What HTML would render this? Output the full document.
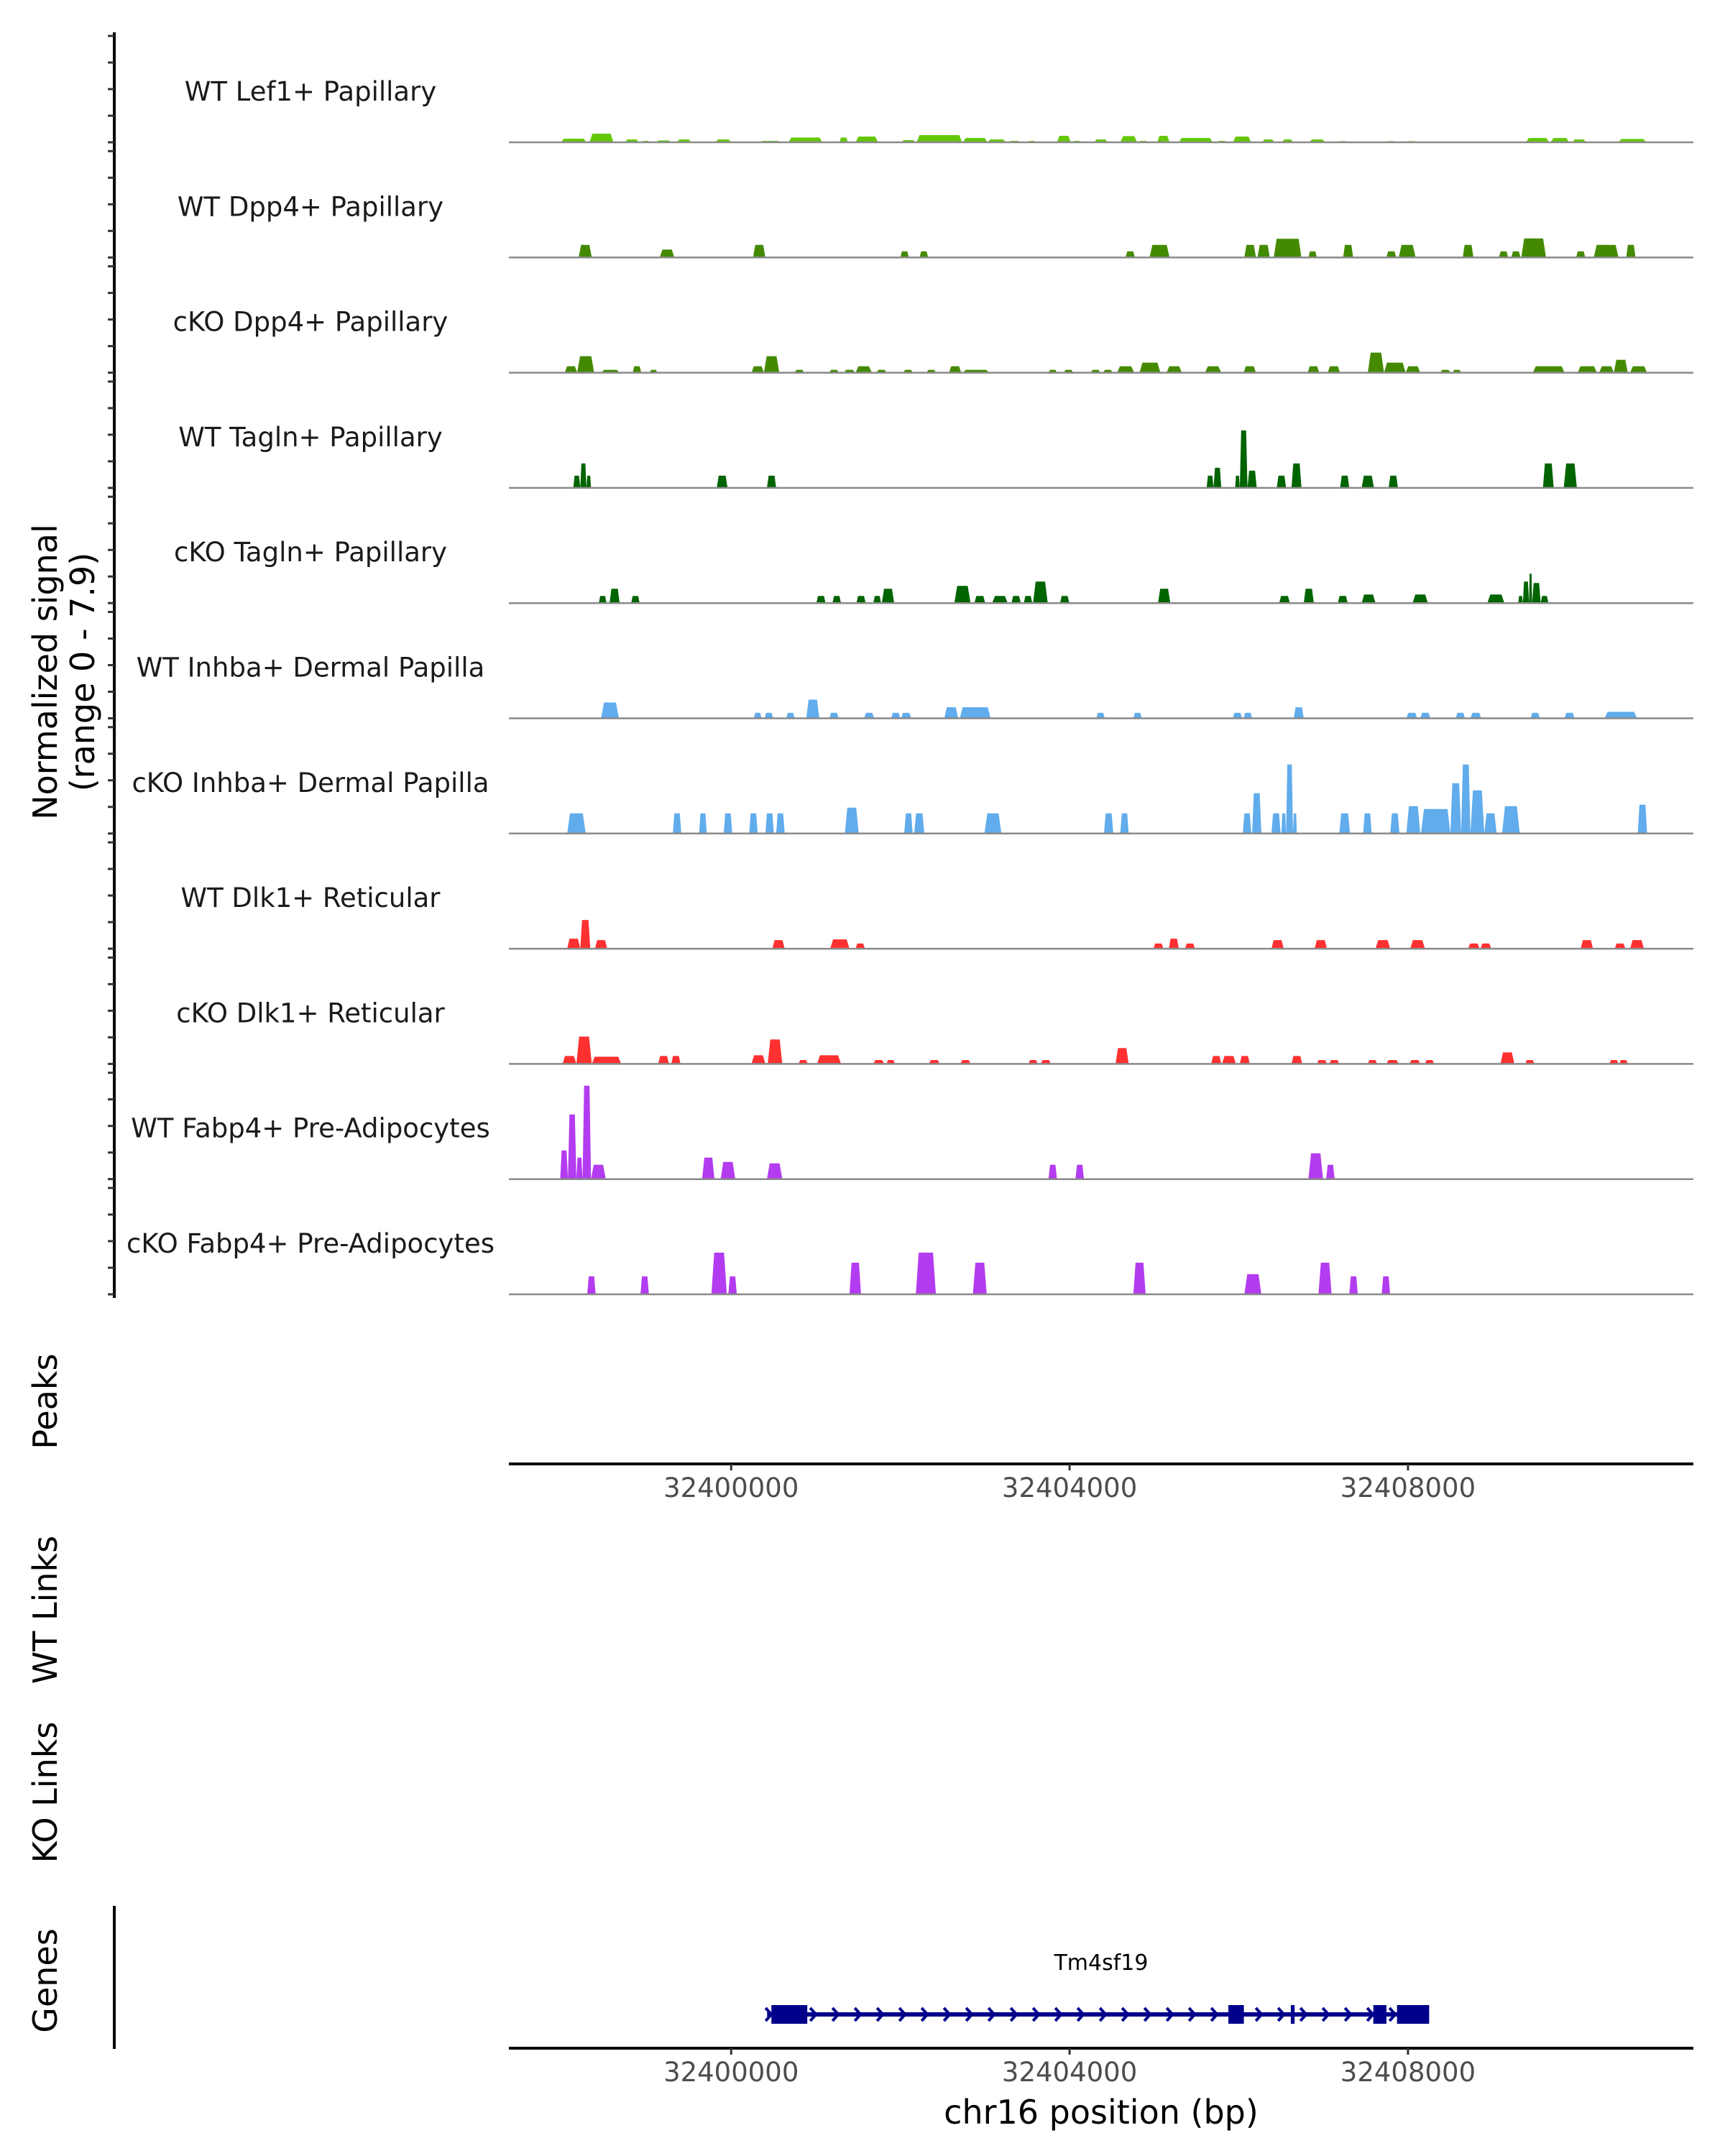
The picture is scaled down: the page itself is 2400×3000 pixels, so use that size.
<!DOCTYPE html>
<html><head><meta charset="utf-8">
<style>
html,body{margin:0;padding:0;background:#fff;}
svg{display:block;}
text{font-family:"DejaVu Sans","Liberation Sans",sans-serif;}
</style></head>
<body>
<svg id="chart" width="2400" height="3000" viewBox="0 0 2400 3000" xmlns="http://www.w3.org/2000/svg"></svg>
<script>
// ---- data ----
const windowStart = 32397305; // offsets below are bp relative to this
const domainStart = 32397373;
const domainEnd = 32411373;
const xTickValues = [32400000, 32404000, 32408000];
const xTickLabels = ["32400000", "32404000", "32408000"];
const trackNames = ["WT Lef1+ Papillary","WT Dpp4+ Papillary","cKO Dpp4+ Papillary","WT Tagln+ Papillary","cKO Tagln+ Papillary","WT Inhba+ Dermal Papilla","cKO Inhba+ Dermal Papilla","WT Dlk1+ Reticular","cKO Dlk1+ Reticular","WT Fabp4+ Pre-Adipocytes","cKO Fabp4+ Pre-Adipocytes"];
const trackColors = ["#64c80a","#448a00","#448a00","#006400","#006400","#60acec","#60acec","#ff3030","#ff3030","#b33cf0","#b33cf0"];
const yTickValues = [0, 1.85, 3.7, 5.55, 7.4];

const lef1WT = [[684,985,.25],[1021,1304,.6],[1440,1605,.2],[1641,1732,.1],[1805,1988,.13],[2051,2225,.2],[2507,2699,.2],[3036,3282,.1],[3373,3774,.33],[3975,4075,.33],[4166,4431,.4],[4704,4878,.15],[4887,5425,.5],[5434,5725,.3],[5725,5944,.2],[5981,6108,.1],[6200,6291,.1],[6546,6710,.45],[6728,6838,.1],[6984,7148,.2],[7294,7494,.43],[7512,7622,.1],[7731,7877,.45],[7986,8388,.3],[8442,8552,.1],[8625,8843,.4],[8971,9117,.2],[9208,9336,.2],[9527,9719,.2],[9883,9974,.08],[10439,10557,.08],[10667,10795,.08],[12089,12363,.3],[12381,12600,.3],[12636,12800,.2],[13183,13511,.23]];
const dpp4WT = [[893,1048,.88],[1851,2024,.55],[2954,3100,.88],[4695,4796,.43],[4923,5023,.43],[7357,7467,.43],[7640,7877,.88],[8761,8898,.88],[8916,9062,.88],[9108,9436,1.3],[9518,9618,.43],[9928,10047,.88],[10439,10557,.43],[10585,10785,.88],[11342,11469,.88],[11770,11879,.43],[11916,12025,.43],[12034,12326,1.33],[12682,12791,.43],[12891,13183,.88],[13274,13384,.88]];
const dpp4KO = [[729,875,.45],[875,1076,1.15],[1158,1377,.2],[1532,1632,.45],[1732,1823,.2],[2936,3082,.45],[3082,3264,1.15],[3446,3556,.2],[3856,3966,.2],[4030,4157,.2],[4166,4358,.45],[4413,4531,.2],[4732,4841,.2],[5005,5115,.2],[5270,5415,.45],[5434,5744,.2],[6446,6546,.2],[6628,6737,.2],[6947,7057,.2],[7093,7202,.2],[7257,7458,.45],[7522,7768,.7],[7841,8023,.45],[8296,8488,.45],[8752,8898,.45],[9509,9646,.45],[9746,9892,.45],[10220,10412,1.4],[10412,10667,.7],[10667,10840,.45],[11077,11196,.2],[11223,11323,.2],[12171,12545,.45],[12700,12928,.45],[12955,13128,.45],[13128,13293,.9],[13320,13521,.45]];
const taglnWT = [[830,912,.85],[912,985,1.7],[985,1039,.85],[2525,2653,.85],[3118,3227,.85],[8315,8397,.85],[8397,8488,1.4],[8652,8707,.85],[8707,8798,4.0],[8798,8907,1.2],[9144,9254,.85],[9318,9436,1.7],[9892,10001,.85],[10147,10293,.85],[10466,10576,.85],[12290,12417,1.7],[12536,12691,1.7]];
const taglnKO = [[1131,1222,.5],[1258,1377,1.0],[1513,1614,.5],[3702,3811,.5],[3893,3993,.5],[4176,4285,.5],[4376,4467,.5],[4476,4622,1.0],[5333,5525,1.2],[5570,5698,.5],[5780,5963,.5],[6008,6118,.5],[6154,6254,.5],[6263,6437,1.5],[6582,6692,.5],[7740,7886,1.0],[9172,9299,.5],[9463,9582,1.0],[9865,9983,.5],[10147,10311,.6],[10749,10931,.6],[11633,11834,.6],[11998,12053,.5],[12053,12126,1.5],[12126,12162,2.05],[12162,12263,1.4],[12263,12354,.5]];
const inhbaWT = [[1158,1368,1.1],[2963,3054,.38],[3091,3191,.38],[3346,3446,.38],[3583,3738,1.3],[3856,3966,.38],[4267,4385,.38],[4586,4695,.38],[4704,4823,.38],[5215,5379,.77],[5397,5762,.77],[7011,7111,.38],[7449,7549,.38],[8625,8734,.38],[8752,8853,.38],[9345,9463,.77],[10676,10804,.38],[10840,10959,.38],[11259,11369,.38],[11433,11560,.38],[12144,12253,.38],[12545,12664,.38],[13019,13402,.45]];
const inhbaKO = [[757,976,1.4],[2006,2106,1.4],[2316,2407,1.4],[2607,2708,1.4],[2908,3009,1.4],[3100,3200,1.4],[3227,3328,1.4],[4039,4203,1.8],[4741,4841,1.4],[4859,4978,1.4],[5689,5890,1.4],[7102,7212,1.4],[7294,7394,1.4],[8743,8843,1.4],[8853,8962,2.8],[9081,9190,1.4],[9199,9254,1.4],[9254,9336,4.8],[9336,9381,1.4],[9883,10010,1.4],[10165,10266,1.4],[10485,10594,1.4],[10676,10840,1.9],[10849,11196,1.7],[11196,11323,3.5],[11323,11433,4.8],[11433,11597,3.0],[11597,11743,1.4],[11807,12016,1.9],[13411,13521,2.0]];
const dlk1WT = [[757,912,.7],[912,1030,2.0],[1085,1231,.6],[3182,3328,.6],[3866,4094,.65],[4166,4276,.36],[7686,7804,.36],[7868,7986,.7],[8059,8178,.36],[9081,9226,.6],[9591,9737,.6],[10311,10485,.6],[10722,10895,.6],[11405,11542,.36],[11551,11679,.36],[12736,12882,.6],[13138,13265,.36],[13320,13484,.6]];
const dlk1KO = [[702,866,.55],[866,1048,1.9],[1048,1395,.5],[1833,1960,.55],[1988,2097,.55],[2936,3100,.6],[3127,3300,1.7],[3492,3601,.27],[3711,3993,.6],[4376,4504,.27],[4531,4631,.27],[5033,5160,.27],[5406,5525,.27],[6209,6318,.27],[6355,6473,.27],[7239,7394,1.1],[8369,8488,.55],[8497,8661,.55],[8707,8825,.55],[9318,9445,.55],[9618,9737,.27],[9764,9883,.27],[10220,10330,.27],[10439,10585,.27],[10712,10840,.27],[10895,11004,.27],[11788,11952,.8],[12080,12189,.27],[13074,13183,.27],[13192,13293,.27]];
const fabp4WT = [[675,766,2.0],[766,866,4.5],[866,939,1.5],[939,1039,6.5],[1039,1213,1.0],[2352,2498,1.5],[2571,2744,1.2],[3118,3300,1.1],[6446,6546,1.0],[6765,6865,1.0],[9518,9691,1.8],[9728,9828,1.0]];
const fabp4KO = [[994,1094,1.25],[1623,1723,1.25],[2462,2644,2.9],[2662,2762,1.25],[4094,4230,2.2],[4878,5115,2.9],[5552,5716,2.2],[7449,7594,2.2],[8761,8962,1.4],[9637,9792,2.2],[10001,10102,1.25],[10384,10484,1.25]];
const trackData = [lef1WT, dpp4WT, dpp4KO, taglnWT, taglnKO, inhbaWT, inhbaKO, dlk1WT, dlk1KO, fabp4WT, fabp4KO];

const geneName = "Tm4sf19";
const geneStart = 32400425;
const geneEnd = 32408250;
const exonStarts = [32400476, 32405877, 32406615, 32407590, 32407870];
const exonEnds   = [32400900, 32406060, 32406660, 32407745, 32408250];

// ---- layout ----
const plotLeft = 708, plotRight = 2356;
const firstBaseline = 198, trackStep = 160.3, unitPx = 20;
function xScale(bp){ return plotLeft + (bp - domainStart) * (plotRight - plotLeft) / (domainEnd - domainStart); }
function baseY(i){ return firstBaseline + i * trackStep; }
function yScale(i, v){ return baseY(i) - v * unitPx; }

const NS = "http://www.w3.org/2000/svg";
const svg = document.getElementById('chart');
function mk(tag, attrs, parent){
  const e = document.createElementNS(NS, tag);
  for (const k in attrs) e.setAttribute(k, attrs[k]);
  (parent || svg).appendChild(e);
  return e;
}

// left signal axis
const axisG = mk('g', {});


const axLine = mk('line', {x1:159, y1:45, x2:159, y2:1806, stroke:'#000', 'stroke-width':4}, axisG);



// tracks
trackNames.forEach((name, i) => {
  const g = mk('g', {});
  
  
  yTickValues.forEach(t => {
    const tk = mk('line', {x1:150, x2:159, y1:yScale(i, t), y2:yScale(i, t), stroke:'#333', 'stroke-width':3}, axisG);
    
    
  });
  const lbl = mk('text', {x:432, y:baseY(i) - 58, 'text-anchor':'middle', 'font-size':37, fill:'#1a1a1a'}, g);
  lbl.textContent = name;
  
  
  trackData[i].forEach(p => {
    const x0 = xScale(windowStart + p[0]), x1 = xScale(windowStart + p[1]);
    const w = x1 - x0, ins = Math.min(w * 0.18, 4);
    const yb = baseY(i), yt = yScale(i, p[2]);
    const poly = mk('polygon', {points:`${x0},${yb} ${x0+ins},${yt} ${x1-ins},${yt} ${x1},${yb}`, fill:trackColors[i]}, g);
    
    
  });
  const bl = mk('line', {x1:plotLeft, x2:plotRight, y1:baseY(i), y2:baseY(i), stroke:'#8a8a8a', 'stroke-width':2.5}, g);
  
  
});

// y titles
function vtext(txt, x, y, name){
  const t = mk('text', {x:x, y:y, 'text-anchor':'middle', 'font-size':46, fill:'#000', transform:`rotate(-90 ${x} ${y})`, 'dominant-baseline':'central'});
  t.textContent = txt;
  
  
}
vtext('Normalized signal', 63, 935, 'y-axis-title');
vtext('(range 0 - 7.9)', 115, 935, 'y-axis-range');
vtext('Peaks', 63, 1950, 'peaks-title');
vtext('WT Links', 63, 2240, 'wt-links-title');
vtext('KO Links', 63, 2494, 'ko-links-title');
vtext('Genes', 63, 2756, 'genes-title');

// x axes
function xAxis(y, name){
  const g = mk('g', {});
  
  
  const l = mk('line', {x1:plotLeft, x2:plotRight, y1:y, y2:y, stroke:'#000', 'stroke-width':4}, g);
  
  
  xTickValues.forEach((v, k) => {
    const tk = mk('line', {x1:xScale(v), x2:xScale(v), y1:y, y2:y + 9, stroke:'#333', 'stroke-width':3}, g);
    
    
    const t = mk('text', {x:xScale(v), y:y + 46, 'text-anchor':'middle', 'font-size':37, fill:'#4d4d4d'}, g);
    t.textContent = xTickLabels[k];
    
    
  });
}
xAxis(2037, 'peaks-x-axis');
xAxis(2850, 'genes-x-axis');
const xt = mk('text', {x:1532, y:2955, 'text-anchor':'middle', 'font-size':46, fill:'#000'});
xt.textContent = 'chr16 position (bp)';



const gl = mk('line', {x1:159, x2:159, y1:2652, y2:2851, stroke:'#000', 'stroke-width':4});



// gene model
const gg = mk('g', {});


const gy = 2803;
const intron = mk('line', {x1:xScale(geneStart), x2:xScale(geneEnd), y1:gy, y2:gy, stroke:'#00008b', 'stroke-width':6}, gg);


for (let x = xScale(geneStart) + 2; x < xScale(geneEnd) - 10; x += 31) {
  const c = mk('polyline', {points:`${x-4},${gy-9} ${x+4},${gy} ${x-4},${gy+9}`, fill:'none', stroke:'#00008b', 'stroke-width':4}, gg);
  
  
}
exonStarts.forEach((s, k) => {
  const r = mk('rect', {x:xScale(s), y:gy - 13, width:Math.max(xScale(exonEnds[k]) - xScale(s), 5), height:26, fill:'#00008b'}, gg);
  
  
});
const gt = mk('text', {x:1532, y:2741, 'text-anchor':'middle', 'font-size':30, fill:'#000'}, gg);
gt.textContent = geneName;


</script>
</body></html>
